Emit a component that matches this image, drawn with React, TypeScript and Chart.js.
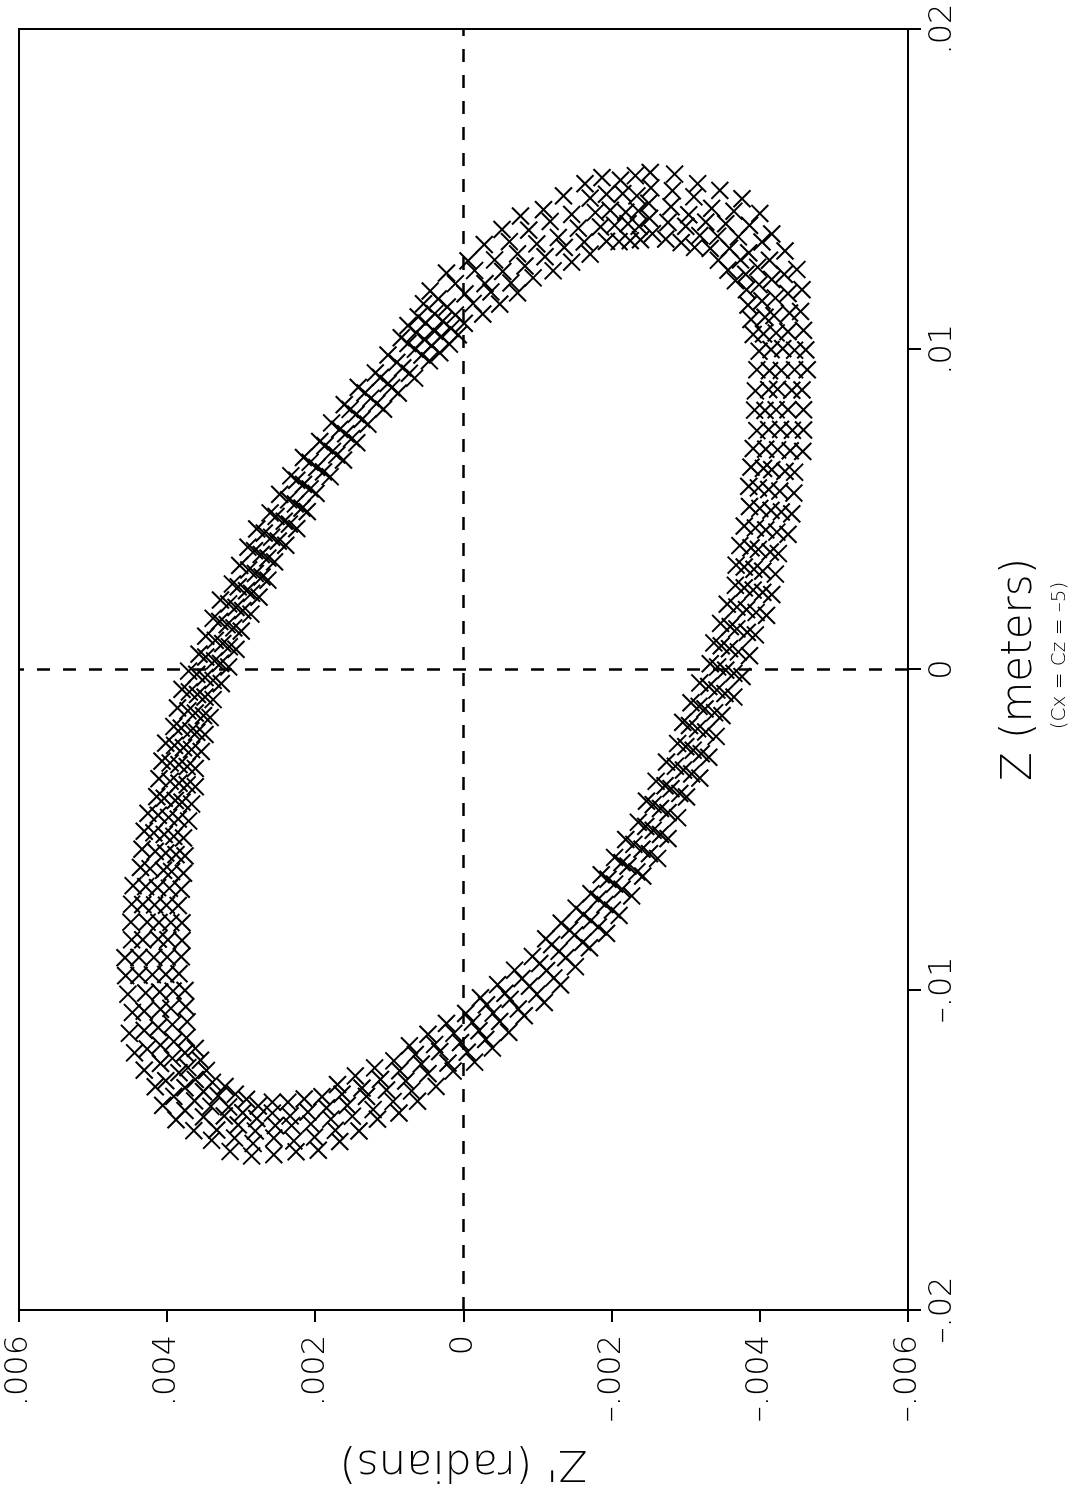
import React, { useEffect, useRef } from "react";
import { Chart, registerables } from "chart.js";

Chart.register(...registerables);

// Z (meters) of every plotted cross (first pass of the trace)
const zValues = [
  0.01552, 0.01456, 0.01361, 0.01495, 0.01396,
  0.01517, 0.0142, 0.01333, 0.0144, 0.01355,
  0.0147, 0.01392, 0.01315, 0.01387, 0.01315,
  0.0136, 0.01301, 0.01247, 0.01278, 0.01234,
  0.01249, 0.01218, 0.01186, 0.01174, 0.01151,
  0.01118, 0.01105, 0.01093, 0.01055, 0.01048,
  0.00998, 0.01002, 0.00994, 0.00936, 0.00933,
  0.00873, 0.00875, 0.0087, 0.00811, 0.00809,
  0.00748, 0.0075, 0.00746, 0.00683, 0.00688,
  0.00616, 0.00624, 0.00632, 0.00557, 0.00567,
  0.00486, 0.00497, 0.00509, 0.00429, 0.00442,
  0.00362, 0.00375, 0.00387, 0.00307, 0.0032,
  0.00234, 0.00248, 0.00263, 0.00178, 0.00195,
  0.00108, 0.00127, 0.00144, 0.00055, 0.00074,
  -0.00022, -0.00002, 0.00018, -0.00075, -0.00053,
  -0.00144, -0.00123, -0.00104, -0.00195, -0.00175,
  -0.00274, -0.00252, -0.00231, -0.00326, -0.00302,
  -0.00398, -0.00372, -0.00349, -0.00447, -0.00422,
  -0.00528, -0.00502, -0.00477, -0.00575, -0.00546,
  -0.00645, -0.00614, -0.00587, -0.00686, -0.00655,
  -0.00768, -0.00734, -0.007, -0.00804, -0.00765,
  -0.00869, -0.00829, -0.00792, -0.009, -0.00859,
  -0.00985, -0.0094, -0.00896, -0.01014, -0.00965,
  -0.01081, -0.0103, -0.00984, -0.01099, -0.01047,
  -0.01182, -0.01128, -0.01074, -0.01195, -0.01136,
  -0.01254, -0.01193, -0.01139, -0.01262, -0.01202,
  -0.01348, -0.01285, -0.01222, -0.01349, -0.0128,
  -0.01404, -0.01333, -0.01269, -0.01395, -0.01326,
  -0.01474, -0.01404, -0.01334, -0.0146, -0.01382,
  -0.01506, -0.01424, -0.01351, -0.01463, -0.01385,
  -0.01519, -0.01441, -0.01363, -0.01463, -0.01384,
  -0.0147, -0.01394, -0.01326, -0.01397, -0.01331,
  -0.01406, -0.01347, -0.01289, -0.01333, -0.0128,
  -0.01303, -0.01259, -0.0122, -0.0123, -0.01197,
  -0.01197, -0.01173, -0.0115, -0.01127, -0.01109,
  -0.01071, -0.01061, -0.01053, -0.0101, -0.01004,
  -0.00956, -0.00953, -0.0095, -0.00899, -0.00898,
  -0.00844, -0.00842, -0.00846, -0.00789, -0.0079,
  -0.00733, -0.00735, -0.00737, -0.00678, -0.00683,
  -0.00618, -0.00627, -0.00636, -0.00568, -0.00578,
  -0.00505, -0.00515, -0.00526, -0.00455, -0.00467,
  -0.00397, -0.00409, -0.0042, -0.00349, -0.0036,
  -0.00286, -0.00297, -0.00309, -0.00237, -0.0025,
  -0.00178, -0.00191, -0.00203, -0.00129, -0.00144,
  -0.00062, -0.00078, -0.00094, -0.00015, -0.00034,
  0.00048, 0.00027, 0.00008, 0.00091, 0.00071,
  0.0016, 0.0014, 0.0012, 0.00205, 0.00184,
  0.00267, 0.00246, 0.00226, 0.00311, 0.00289,
  0.00382, 0.00359, 0.00336, 0.00426, 0.00401,
  0.00489, 0.00463, 0.0044, 0.0053, 0.00504,
  0.00605, 0.00578, 0.0055, 0.00647, 0.00617,
  0.00712, 0.00681, 0.00654, 0.0075, 0.00721,
  0.00827, 0.00797, 0.00766, 0.00864, 0.00831,
  0.00926, 0.00893, 0.00863, 0.00959, 0.00925,
  0.01036, 0.01, 0.00964, 0.01052, 0.01011,
  0.01101, 0.01056, 0.01016, 0.01111, 0.01065,
  0.01182, 0.01132, 0.01081, 0.01205, 0.01143,
  0.01276, 0.01205, 0.01141, 0.01279, 0.01207,
  0.01374, 0.01298, 0.01223, 0.01372, 0.01289,
  0.01436, 0.01349, 0.01272, 0.01421, 0.01335,
  0.01517, 0.01427, 0.01337, 0.01484, 0.01387,
  0.01528, 0.01428, 0.01339, 0.01479, 0.01384,
];

// Z' (radians) of every plotted cross (first pass), same order as zValues
const zPrimeValues = [
  -0.00252, -0.0025, -0.00255, -0.00282, -0.00276,
  -0.00316, -0.00304, -0.00294, -0.00335, -0.00319,
  -0.00376, -0.00354, -0.00333, -0.00386, -0.00359,
  -0.00416, -0.00385, -0.00357, -0.00413, -0.00381,
  -0.0045, -0.00416, -0.00382, -0.00438, -0.00403,
  -0.00455, -0.00419, -0.00388, -0.00438, -0.00405,
  -0.00462, -0.00431, -0.00399, -0.00447, -0.00413,
  -0.00457, -0.00424, -0.00394, -0.00438, -0.00407,
  -0.00459, -0.00428, -0.00396, -0.00441, -0.00408,
  -0.00447, -0.00416, -0.00388, -0.00427, -0.00398,
  -0.00443, -0.00415, -0.00386, -0.00423, -0.00394,
  -0.00425, -0.00398, -0.00373, -0.00404, -0.00379,
  -0.00416, -0.00391, -0.00367, -0.00395, -0.00369,
  -0.00394, -0.00369, -0.00347, -0.00371, -0.00348,
  -0.00376, -0.00354, -0.00333, -0.00353, -0.00331,
  -0.00349, -0.00326, -0.00307, -0.00327, -0.00305,
  -0.00331, -0.0031, -0.00289, -0.00308, -0.00286,
  -0.00301, -0.0028, -0.0026, -0.00276, -0.00256,
  -0.00276, -0.00256, -0.00236, -0.00251, -0.0023,
  -0.00242, -0.00222, -0.00204, -0.00214, -0.00195,
  -0.0021, -0.00191, -0.00172, -0.00182, -0.00162,
  -0.0017, -0.0015, -0.00132, -0.00138, -0.00119,
  -0.00131, -0.00112, -0.00093, -0.00099, -0.00079,
  -0.00082, -0.00063, -0.00046, -0.00049, -0.00031,
  -0.00039, -0.00021, -0.00003, -0.00005, 0.00013,
  0.00014, 0.00032, 0.00048, 0.00048, 0.00065,
  0.00062, 0.00078, 0.00094, 0.00095, 0.00112,
  0.00116, 0.00131, 0.00146, 0.0015, 0.00164,
  0.00167, 0.00179, 0.00191, 0.00201, 0.0021,
  0.00226, 0.00232, 0.00237, 0.00256, 0.00258,
  0.00286, 0.00281, 0.00277, 0.00309, 0.00298,
  0.0034, 0.00323, 0.00308, 0.00351, 0.00331,
  0.00388, 0.00363, 0.00339, 0.00391, 0.00362,
  0.00416, 0.00384, 0.00355, 0.00409, 0.00376,
  0.00444, 0.00409, 0.00374, 0.00431, 0.00393,
  0.00447, 0.00409, 0.00375, 0.00429, 0.00392,
  0.00456, 0.0042, 0.00384, 0.00438, 0.004,
  0.00448, 0.00412, 0.0038, 0.00427, 0.00395,
  0.00448, 0.00417, 0.00385, 0.00429, 0.00397,
  0.00436, 0.00405, 0.00378, 0.00416, 0.00388,
  0.00431, 0.00404, 0.00378, 0.00412, 0.00385,
  0.00414, 0.00389, 0.00367, 0.00396, 0.00373,
  0.00407, 0.00384, 0.00362, 0.0039, 0.00367,
  0.00391, 0.00368, 0.00349, 0.00372, 0.00351,
  0.0038, 0.00359, 0.00338, 0.0036, 0.00338,
  0.00357, 0.00336, 0.00317, 0.00335, 0.00316,
  0.00338, 0.00319, 0.003, 0.00317, 0.00298,
  0.00312, 0.00293, 0.00276, 0.0029, 0.00272,
  0.00291, 0.00273, 0.00255, 0.00269, 0.0025,
  0.00261, 0.00242, 0.00225, 0.00236, 0.00218,
  0.00233, 0.00216, 0.00199, 0.00207, 0.00189,
  0.00194, 0.00177, 0.00162, 0.00167, 0.00151,
  0.00161, 0.00145, 0.00129, 0.00133, 0.00117,
  0.00119, 0.00102, 0.00088, 0.0009, 0.00073,
  0.00084, 0.00065, 0.00046, 0.00064, 0.00043,
  0.00061, 0.00039, 0.00019, 0.00039, 0.00017,
  0.00045, 0.00022, -0.00001, 0.00011, -0.00013,
  -0.00006, -0.00029, -0.00049, -0.00042, -0.00064,
  -0.00052, -0.00073, -0.00094, -0.00088, -0.0011,
  -0.00108, -0.00128, -0.00146, -0.00146, -0.00163,
  -0.00164, -0.00178, -0.00193, -0.00193, -0.00204,
  -0.00212, -0.00219, -0.00225, -0.00234, -0.00237,
];

// Z (meters) of the crosses of the second pass of the trace
const zValuesPass2 = [
  0.01504, 0.01409, 0.01547, 0.01445, 0.01344,
  0.01476, 0.01384, 0.01496, 0.01397, 0.01318,
  0.01431, 0.01353, 0.01424, 0.01351, 0.01278,
  0.01335, 0.01279, 0.01307, 0.01256, 0.01214,
  0.01234, 0.01202, 0.01186, 0.0116, 0.01138,
  0.01113, 0.011, 0.01059, 0.01051, 0.01046,
  0.00997, 0.00999, 0.00936, 0.00934, 0.00936,
  0.00872, 0.00874, 0.00811, 0.00811, 0.0081,
  0.00747, 0.00749, 0.00681, 0.00686, 0.0069,
  0.00619, 0.00628, 0.00551, 0.00562, 0.00572,
  0.00492, 0.00503, 0.00422, 0.00436, 0.00448,
  0.00367, 0.0038, 0.00298, 0.00313, 0.00326,
  0.00241, 0.00255, 0.00169, 0.00187, 0.00204,
  0.00116, 0.00134, 0.00043, 0.00065, 0.00083,
  -0.00012, 0.00008, -0.00086, -0.00064, -0.00042,
  -0.00135, -0.00115, -0.00209, -0.00185, -0.00165,
  -0.00263, -0.00241, -0.00339, -0.00314, -0.00289,
  -0.00387, -0.00363, -0.00463, -0.00434, -0.00411,
  -0.00515, -0.0049, -0.0059, -0.00561, -0.00531,
  -0.00632, -0.00603, -0.00707, -0.0067, -0.00641,
  -0.00751, -0.00717, -0.00824, -0.00784, -0.00745,
  -0.00852, -0.00814, -0.00928, -0.0088, -0.00841,
  -0.00963, -0.00918, -0.0104, -0.00989, -0.00939,
  -0.0106, -0.01011, -0.01133, -0.01073, -0.01025,
  -0.01155, -0.01101, -0.01226, -0.01165, -0.01105,
  -0.01229, -0.01171, -0.01302, -0.01232, -0.01175,
  -0.01316, -0.01253, -0.01385, -0.01313, -0.01244,
  -0.01374, -0.01307, -0.01441, -0.01361, -0.01296,
  -0.01439, -0.01369, -0.01501, -0.01419, -0.01341,
  -0.01472, -0.01394, -0.01515, -0.01424, -0.01351,
  -0.0148, -0.01402, -0.01505, -0.01422, -0.01342,
  -0.01438, -0.01366, -0.0144, -0.01364, -0.01302,
  -0.01377, -0.01318, -0.01361, -0.01306, -0.01252,
  -0.01284, -0.01243, -0.01251, -0.01214, -0.01183,
  -0.01185, -0.01162, -0.01136, -0.01118, -0.011,
  -0.01067, -0.01058, -0.01014, -0.01007, -0.01002,
  -0.00955, -0.00952, -0.009, -0.00899, -0.00897,
  -0.00844, -0.00844, -0.00789, -0.0079, -0.00791,
  -0.00734, -0.00736, -0.00675, -0.00681, -0.00686,
  -0.00622, -0.00631, -0.00561, -0.00573, -0.00582,
  -0.0051, -0.00521, -0.00449, -0.00462, -0.00473,
  -0.00402, -0.00414, -0.00341, -0.00355, -0.00366,
  -0.00292, -0.00303, -0.0023, -0.00244, -0.00256,
  -0.00183, -0.00196, -0.0012, -0.00136, -0.0015,
  -0.0007, -0.00086, -0.00005, -0.00025, -0.00044,
  0.00039, 0.00019, 0.00104, 0.00081, 0.00063,
  0.0015, 0.0013, 0.00217, 0.00194, 0.00173,
  0.00258, 0.00238, 0.00325, 0.003, 0.00279,
  0.00371, 0.00348, 0.00439, 0.00413, 0.00388,
  0.00478, 0.00454, 0.00547, 0.00517, 0.00493,
  0.00591, 0.00564, 0.00662, 0.00631, 0.00602,
  0.00699, 0.0067, 0.0077, 0.00736, 0.00708,
  0.00812, 0.00781, 0.00881, 0.00847, 0.00813,
  0.00912, 0.0088, 0.00982, 0.00942, 0.0091,
  0.01018, 0.00982, 0.01074, 0.01031, 0.00989,
  0.01082, 0.0104, 0.01142, 0.01088, 0.01045,
  0.01157, 0.01107, 0.01238, 0.01173, 0.0111,
  0.01246, 0.01179, 0.01327, 0.01243, 0.01176,
  0.01336, 0.0126, 0.01416, 0.01329, 0.01245,
  0.01399, 0.01318, 0.01479, 0.01378, 0.01297,
  0.01472, 0.01382, 0.01536, 0.01434, 0.01336,
  0.01486, 0.01392, 0.01542, 0.01432, 0.01342,
];

// Z' (radians) of the crosses of the second pass, same order as zValuesPass2
const zPrimeValuesPass2 = [
  -0.00253, -0.00251, -0.00285, -0.0028, -0.00273,
  -0.00311, -0.003, -0.00346, -0.00327, -0.00312,
  -0.00365, -0.00343, -0.004, -0.00371, -0.00344,
  -0.00403, -0.00374, -0.00434, -0.00397, -0.00367,
  -0.00433, -0.00399, -0.00457, -0.00421, -0.00384,
  -0.0044, -0.00407, -0.00459, -0.00422, -0.00391,
  -0.00447, -0.00415, -0.00464, -0.00429, -0.00396,
  -0.00443, -0.00412, -0.00459, -0.00422, -0.00393,
  -0.00444, -0.00412, -0.00458, -0.00424, -0.00391,
  -0.00434, -0.00405, -0.00446, -0.00412, -0.00385,
  -0.00429, -0.004, -0.00438, -0.00408, -0.00379,
  -0.00414, -0.00388, -0.00421, -0.00392, -0.00368,
  -0.00404, -0.00379, -0.00409, -0.00382, -0.00356,
  -0.00383, -0.0036, -0.00386, -0.00359, -0.00338,
  -0.00365, -0.00343, -0.00365, -0.00342, -0.00319,
  -0.00339, -0.00318, -0.00341, -0.00316, -0.00296,
  -0.00321, -0.003, -0.00319, -0.00297, -0.00274,
  -0.00292, -0.00272, -0.00289, -0.00266, -0.00247,
  -0.00266, -0.00246, -0.00262, -0.00241, -0.00219,
  -0.00234, -0.00214, -0.00227, -0.00204, -0.00186,
  -0.00201, -0.00182, -0.00193, -0.00172, -0.00152,
  -0.00161, -0.00143, -0.00151, -0.00129, -0.00111,
  -0.00122, -0.00103, -0.00109, -0.00089, -0.00069,
  -0.00074, -0.00056, -0.00061, -0.0004, -0.00023,
  -0.0003, -0.00012, -0.00015, 0.00004, 0.00023,
  0.00021, 0.00039, 0.00037, 0.00057, 0.00073,
  0.0007, 0.00086, 0.00087, 0.00104, 0.0012,
  0.00122, 0.00137, 0.00141, 0.00157, 0.0017,
  0.00173, 0.00185, 0.00196, 0.00206, 0.00215,
  0.00229, 0.00234, 0.00256, 0.00254, 0.00258,
  0.00284, 0.00279, 0.00315, 0.00304, 0.00293,
  0.00333, 0.00317, 0.00364, 0.00341, 0.00322,
  0.00376, 0.00351, 0.00406, 0.00376, 0.00347,
  0.00402, 0.00372, 0.00431, 0.00393, 0.00362,
  0.00427, 0.00391, 0.00451, 0.00412, 0.00373,
  0.00431, 0.00395, 0.00453, 0.0041, 0.00376,
  0.00438, 0.00402, 0.00457, 0.00418, 0.00381,
  0.00433, 0.00399, 0.00449, 0.00411, 0.0038,
  0.00433, 0.00401, 0.00446, 0.00413, 0.00381,
  0.00423, 0.00394, 0.00434, 0.00402, 0.00376,
  0.00418, 0.00391, 0.00426, 0.00398, 0.00371,
  0.00404, 0.0038, 0.00411, 0.00384, 0.00362,
  0.00396, 0.00373, 0.00402, 0.00378, 0.00354,
  0.00381, 0.0036, 0.00386, 0.00362, 0.00342,
  0.0037, 0.00349, 0.00371, 0.00349, 0.00327,
  0.00348, 0.00328, 0.00348, 0.00325, 0.00307,
  0.00329, 0.0031, 0.00328, 0.00307, 0.00287,
  0.00304, 0.00286, 0.00302, 0.00281, 0.00264,
  0.00282, 0.00264, 0.00279, 0.00259, 0.0024,
  0.00253, 0.00235, 0.00248, 0.00227, 0.00211,
  0.00225, 0.00207, 0.00216, 0.00198, 0.0018,
  0.00187, 0.00171, 0.00178, 0.00159, 0.00144,
  0.00153, 0.00137, 0.00142, 0.00125, 0.00108,
  0.00112, 0.00097, 0.00102, 0.00082, 0.00066,
  0.00075, 0.00056, 0.00075, 0.00053, 0.00032,
  0.00051, 0.0003, 0.00054, 0.00028, 0.00007,
  0.00034, 0.00011, 0.00023, -0.00002, -0.00026,
  -0.00015, -0.00037, -0.00028, -0.00053, -0.00073,
  -0.00062, -0.00083, -0.00077, -0.00099, -0.00121,
  -0.00117, -0.00136, -0.00135, -0.00155, -0.00171,
  -0.00171, -0.00185, -0.00187, -0.00198, -0.0021,
  -0.00215, -0.00222, -0.00232, -0.00236, -0.00239,
];

const zTickValues = [-0.02, -0.01, 0, 0.01, 0.02];
const zTickLabels = ["\u2013.02", "\u2013.01", "0", ".01", ".02"];
const zPrimeTickValues = [-0.006, -0.004, -0.002, 0, 0.002, 0.004, 0.006];
const zPrimeTickLabels = ["\u2013.006", "\u2013.004", "\u2013.002", "0", ".002", ".004", ".006"];

// dashed reference lines through zero
const zeroLineZRange = [-0.02, 0.02];
const zeroLineZPrimeRange = [-0.006, 0.006];

const xTitle = "Z (meters)";
const xSubtitle = "(Cx = Cz = \u20135)";
const yTitle = "Z' (radians)";

const FONT = '"DejaVu Sans", "Liberation Sans", sans-serif';
const CW = 1498;
const CH = 1076;

const framePlugin = {
  id: "frameAndSubtitle",
  afterDraw(chart: any) {
    const { ctx, chartArea } = chart;
    const { left, right, top, bottom } = chartArea;
    ctx.save();
    ctx.strokeStyle = "#000";
    ctx.lineWidth = 2;
    ctx.strokeRect(left, top, right - left, bottom - top);
    ctx.fillStyle = "#000";
    ctx.font = `200 20px ${FONT}`;
    ctx.textAlign = "center";
    ctx.textBaseline = "middle";
    ctx.fillText(xSubtitle, (left + right) / 2 + 14, 1060);
    ctx.restore();
  },
};

export default function App() {
  const canvasRef = useRef<HTMLCanvasElement | null>(null);

  useEffect(() => {
    const canvas = canvasRef.current;
    if (!canvas) return;
    const points = zValues
      .map((z, i) => ({ x: z, y: zPrimeValues[i] }))
      .concat(zValuesPass2.map((z, i) => ({ x: z, y: zPrimeValuesPass2[i] })));
    const chart = new Chart(canvas, {
      type: "scatter",
      data: {
        datasets: [
          {
            label: "Z' vs Z",
            data: points,
            pointStyle: "crossRot",
            pointRadius: 12,
            pointBorderWidth: 2,
            borderColor: "#000",
            backgroundColor: "#000",
            showLine: false,
          },
          {
            label: "Z' = 0",
            data: zeroLineZRange.map((z) => ({ x: z, y: 0 })),
            showLine: true,
            borderColor: "#000",
            borderWidth: 2.5,
            borderDash: [13, 13],
            pointRadius: 0,
          },
          {
            label: "Z = 0",
            data: zeroLineZPrimeRange.map((zp) => ({ x: 0, y: zp })),
            showLine: true,
            borderColor: "#000",
            borderWidth: 2.5,
            borderDash: [13, 13],
            pointRadius: 0,
          },
        ],
      },
      options: {
        animation: false,
        responsive: false,
        devicePixelRatio: 1,
        events: [],
        layout: { padding: { left: 0, right: 29, top: 19, bottom: 0 } },
        plugins: {
          legend: { display: false },
          tooltip: { enabled: false },
          title: { display: false },
        },
        scales: {
          x: {
            type: "linear",
            position: "bottom",
            min: -0.02,
            max: 0.02,
            afterFit: (s: any) => {
              s.height = 168;
              s.paddingLeft = 0;
              s.paddingRight = 0;
            },
            afterBuildTicks: (s: any) => {
              s.ticks = zTickValues.map((v) => ({ value: v }));
            },
            grid: {
              drawOnChartArea: false,
              drawTicks: true,
              tickLength: 13,
              color: "#000",
              lineWidth: 2,
            },
            border: { display: true, color: "#000", width: 2 },
            ticks: {
              autoSkip: false,
              maxRotation: 0,
              minRotation: 0,
              padding: 2,
              color: "#000",
              font: { family: FONT, size: 32, weight: "200" as any },
              callback: (_v: any, i: number) => zTickLabels[i],
            },
            title: {
              display: true,
              text: xTitle,
              color: "#000",
              font: { family: FONT, size: 42, weight: "200" as any },
              padding: { top: 0, bottom: 31 },
            },
          },
          y: {
            type: "linear",
            position: "left",
            min: -0.006,
            max: 0.006,
            afterFit: (s: any) => {
              s.width = 188;
              s.paddingTop = 0;
              s.paddingBottom = 0;
            },
            afterBuildTicks: (s: any) => {
              s.ticks = zPrimeTickValues.map((v) => ({ value: v }));
            },
            grid: {
              drawOnChartArea: false,
              drawTicks: true,
              tickLength: 12,
              color: "#000",
              lineWidth: 2,
            },
            border: { display: true, color: "#000", width: 2 },
            ticks: {
              autoSkip: false,
              padding: 13,
              color: "#000",
              font: { family: FONT, size: 32, weight: "200" as any },
              callback: (_v: any, i: number) => zPrimeTickLabels[i],
            },
            title: {
              display: true,
              text: yTitle,
              color: "#000",
              font: { family: FONT, size: 43, weight: "200" as any },
              padding: { top: 10, bottom: 0 },
            },
          },
        },
      },
      plugins: [framePlugin],
    });
    return () => {
      chart.destroy();
    };
  }, []);

  return (
    <div
      style={{
        position: "absolute",
        left: 0,
        top: 0,
        width: 1076,
        height: 1498,
        overflow: "hidden",
        background: "#fff",
      }}
    >
      <div
        style={{
          position: "absolute",
          left: 0,
          top: 0,
          width: CW,
          height: CH,
          transformOrigin: "0 0",
          transform: `translateY(${CW}px) rotate(-90deg)`,
        }}
      >
        <canvas
          ref={canvasRef}
          width={CW}
          height={CH}
          style={{ width: CW, height: CH, display: "block" }}
        />
      </div>
    </div>
  );
}
